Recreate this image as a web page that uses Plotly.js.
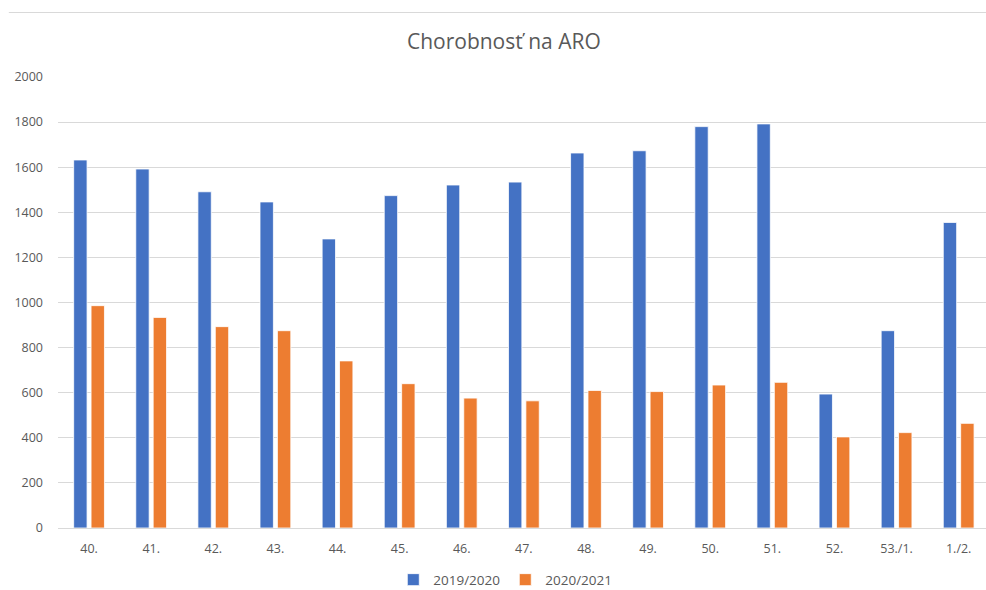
<!DOCTYPE html>
<html>
<head>
<meta charset="utf-8">
<script src="https://cdn.plot.ly/plotly-3.0.1.min.js"></script>
<style>html,body{margin:0;padding:0;background:#fff;}#chart{width:986px;height:590px;}</style>
</head>
<body>
<div id="chart"></div>
<script>
var categories = ["40.", "41.", "42.", "43.", "44.", "45.", "46.", "47.", "48.", "49.", "50.", "51.", "52.", "53./1.", "1./2."];
var season2019 = [1632, 1592, 1491, 1446, 1282, 1474, 1521, 1534, 1663, 1673, 1780, 1792, 594, 875, 1355];
var season2020 = [986, 934, 893, 875, 741, 640, 576, 564, 610, 605, 634, 646, 404, 423, 464];
var yTicks = [0, 200, 400, 600, 800, 1000, 1200, 1400, 1600, 1800, 2000];

var font = "Open Sans, Noto Sans, sans-serif";
var traces = [
  {type: "bar", name: "2019/2020", x: categories, y: season2019,
   marker: {color: "#4472C4", line: {color: "#ffffff", width: 0.8}}},
  {type: "bar", name: "2020/2021", x: categories, y: season2020,
   marker: {color: "#ED7D31", line: {color: "#ffffff", width: 0.8}}}
];
var layout = {
  width: 986, height: 590,
  paper_bgcolor: "#ffffff", plot_bgcolor: "#ffffff",
  margin: {l: 58, r: 0, t: 77, b: 62, autoexpand: false},
  font: {family: font, color: "#595959", size: 12},
  title: {text: "Chorobnosť na ARO", x: 0.511, xanchor: "center", y: 0.93, yanchor: "middle",
          font: {family: font, size: 21, color: "#595959"}},
  barmode: "group", bargap: 0.44, bargroupgap: 0.23,
  xaxis: {type: "category", range: [-0.5, 14.44], showgrid: false, zeroline: false,
          showline: true, linecolor: "#D9D9D9", linewidth: 1, ticks: "",
          tickfont: {family: font, size: 12.5, color: "#595959"}, ticklabelstandoff: 9},
  yaxis: {range: [0, 2000], tickvals: yTicks, showgrid: true, gridcolor: "#D9D9D9", gridwidth: 1,
          zeroline: false, showline: false, ticks: "",
          tickfont: {family: font, size: 12.5, color: "#595959"}, ticklabelstandoff: 14},
  legend: {orientation: "h", x: 0.482, xanchor: "center", y: -0.115, yanchor: "middle",
           font: {family: font, size: 13.5, color: "#595959"}, itemwidth: 30, traceorder: "normal"},
  shapes: [{type: "line", xref: "paper", yref: "paper", x0: -0.053, x1: 1, y0: 1.143, y1: 1.143,
            line: {color: "#D9D9D9", width: 1}}],
  showlegend: true
};
Plotly.newPlot("chart", traces, layout, {displayModeBar: false, staticPlot: true});
</script>
</body>
</html>
